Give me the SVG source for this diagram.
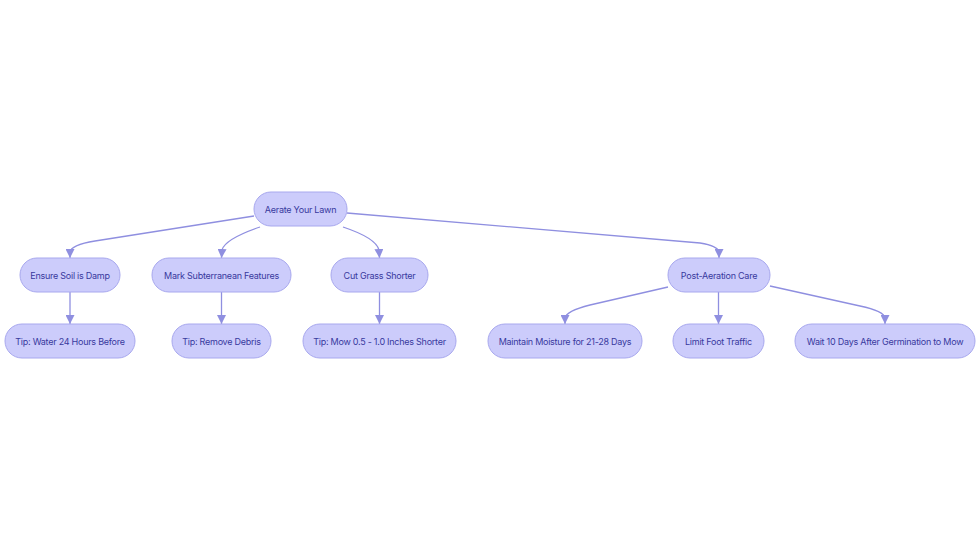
<svg xmlns="http://www.w3.org/2000/svg" width="980" height="553" viewBox="0 0 980 553">
<defs>
<style>
.n rect{fill:#ccccfb;stroke:#a8a8ee;stroke-width:1}
.n text{font-family:Inter,"Noto Sans",sans-serif;font-size:9px;fill:#38399e;text-anchor:middle;dominant-baseline:central;letter-spacing:-0.25px}
.e path{fill:none;stroke:#8f8fe0;stroke-width:1.3;marker-end:url(#ah)}
</style>
<marker id="ah" viewBox="0 0 10 10" refX="10" refY="5" markerWidth="9" markerHeight="9" markerUnits="userSpaceOnUse" orient="auto">
<path d="M0,0 L10,5 L0,10 z" fill="#8f8fe0"/>
</marker>
</defs>
<rect width="980" height="553" fill="#ffffff"/>
<g id="edges" class="e">
<path d="M254,216 L95,241 Q71,245 70,252 L70,258"/>
<path d="M260,227 Q225,239 222,250 L221.5,258"/>
<path d="M343,227 Q376,238 379,250 L379.5,258"/>
<path d="M347,213 L700,243 Q718,246 719,252 L719,258"/>
<path d="M70,292 L70,324"/>
<path d="M221.5,292 L221.5,324"/>
<path d="M379.5,292 L379.5,324"/>
<path d="M668,287 L590,305 Q566,311 565,318 L565,324"/>
<path d="M718.5,292 L718.5,324"/>
<path d="M770,286 L860,306 Q884,311 885,318 L885,324"/>
</g>
<g id="n0" class="n"><rect x="254" y="192" width="93" height="34" rx="17"/><text x="300.5" y="209">Aerate Your Lawn</text></g>
<g id="n1" class="n"><rect x="20" y="258" width="100" height="34" rx="17"/><text x="70" y="275">Ensure Soil is Damp</text></g>
<g id="n2" class="n"><rect x="152" y="258" width="139" height="34" rx="17"/><text x="221.5" y="275">Mark Subterranean Features</text></g>
<g id="n3" class="n"><rect x="331" y="258" width="97" height="34" rx="17"/><text x="379.5" y="275">Cut Grass Shorter</text></g>
<g id="n4" class="n"><rect x="668" y="258" width="102" height="34" rx="17"/><text x="719" y="275">Post-Aeration Care</text></g>
<g id="n5" class="n"><rect x="5" y="324" width="130" height="34" rx="17"/><text x="70" y="341">Tip: Water 24 Hours Before</text></g>
<g id="n6" class="n"><rect x="172" y="324" width="99" height="34" rx="17"/><text x="221.5" y="341">Tip: Remove Debris</text></g>
<g id="n7" class="n"><rect x="303" y="324" width="153" height="34" rx="17"/><text x="379.5" y="341">Tip: Mow 0.5 - 1.0 Inches Shorter</text></g>
<g id="n8" class="n"><rect x="488" y="324" width="154" height="34" rx="17"/><text x="565" y="341">Maintain Moisture for 21-28 Days</text></g>
<g id="n9" class="n"><rect x="673" y="324" width="91" height="34" rx="17"/><text x="718.5" y="341">Limit Foot Traffic</text></g>
<g id="n10" class="n"><rect x="795" y="324" width="180" height="34" rx="17"/><text x="885" y="341">Wait 10 Days After Germination to Mow</text></g>
</svg>
